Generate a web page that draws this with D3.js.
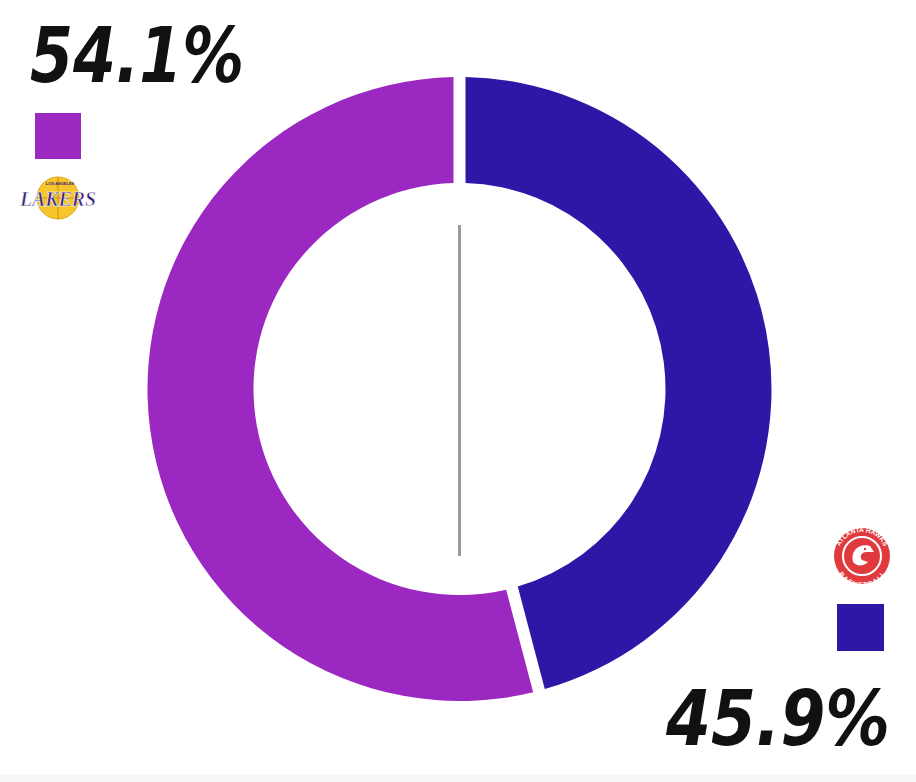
<!DOCTYPE html>
<html><head><meta charset="utf-8">
<script src="https://cdn.jsdelivr.net/npm/d3@7"></script>
<style>html,body{margin:0;padding:0;background:#fff;}svg{display:block;}</style>
</head><body>
<svg id="chart" width="916" height="782"></svg>
<script>
const teams = ["Hawks", "Lakers"];
const shares = [45.9, 54.1];
const labels = ["45.9%", "54.1%"];
const colors = ["#2e17a6", "#9b28c0"];

const svg = d3.select("#chart");
const W = 916, H = 782;
const cx = 459.5, cy = 389, rOuter = 312, rInner = 206;

const pie = d3.pie().sort(null).value(d => d.v);
const data = teams.map((t, i) => ({team: t, v: shares[i], color: colors[i], label: labels[i]}));
const arcs = pie(data);
const arc = d3.arc().innerRadius(rInner).outerRadius(rOuter)
  .padAngle(12 / rOuter).padRadius(rOuter);

const g = svg.append("g").attr("transform", `translate(${cx},${cy})`);
g.selectAll("path").data(arcs).join("path")
  .attr("d", arc).attr("fill", d => d.data.color);

// center vertical line
g.append("line").attr("x1", 0).attr("x2", 0).attr("y1", -164).attr("y2", 167)
  .attr("stroke", "#9a9a9a").attr("stroke-width", 3);

const fontFam = "'DejaVu Sans Condensed','DejaVu Sans',sans-serif";

// Lakers label (top-left)
svg.append("text").attr("x", 30).attr("y", 82)
  .attr("font-family", fontFam).attr("font-weight", "bold").attr("font-style", "italic")
  .attr("font-size", 76).attr("fill", "#111")
  .attr("textLength", 214).attr("lengthAdjust", "spacingAndGlyphs")
  .text(data[1].label);
svg.append("rect").attr("x", 35).attr("y", 113).attr("width", 46).attr("height", 46)
  .attr("fill", data[1].color);

// Lakers logo approximation
const lk = svg.append("g").attr("transform", "translate(58,198)");
lk.append("circle").attr("r", 21).attr("fill", "#f5c52b").attr("stroke", "#e0a818").attr("stroke-width", 1);
lk.append("path").attr("d", "M-21,0 H21 M0,-21 V21").attr("stroke", "#c48a10").attr("stroke-width", 0.8);
lk.append("text").attr("x", 0).attr("y", 8).attr("text-anchor", "middle")
  .attr("font-family", "'Liberation Serif',serif").attr("font-weight", "bold").attr("font-style", "italic")
  .attr("font-size", 22).attr("fill", "#3b1f7a").attr("stroke", "#fff").attr("stroke-width", 0.6)
  .attr("textLength", 76).attr("lengthAdjust", "spacingAndGlyphs").text("LAKERS");
lk.append("text").attr("x", 2).attr("y", -13).attr("text-anchor", "middle")
  .attr("font-family", "sans-serif").attr("font-weight", "bold").attr("font-size", 4).attr("fill", "#3b1f7a").text("LOS ANGELES");

// Hawks label (bottom-right)
svg.append("text").attr("x", 666).attr("y", 745)
  .attr("font-family", fontFam).attr("font-weight", "bold").attr("font-style", "italic")
  .attr("font-size", 76).attr("fill", "#111")
  .attr("textLength", 224).attr("lengthAdjust", "spacingAndGlyphs")
  .text(data[0].label);
svg.append("rect").attr("x", 837).attr("y", 604).attr("width", 47).attr("height", 47)
  .attr("fill", data[0].color);

// Hawks logo approximation
const hk = svg.append("g").attr("transform", "translate(862,556)");
hk.append("circle").attr("r", 28).attr("fill", "#e03a3e");
hk.append("circle").attr("r", 19).attr("fill", "none").attr("stroke", "#fff").attr("stroke-width", 2);
hk.append("circle").attr("r", 16).attr("fill", "#e03a3e");
hk.append("path").attr("d", "M-9,6 C-12,-6 -2,-13 8,-10 L12,-4 L4,-4 C0,-4 -3,0 0,4 L6,6 C2,10 -5,11 -9,6 Z")
  .attr("fill", "#fff");
hk.append("circle").attr("cx", 3).attr("cy", -7).attr("r", 1.2).attr("fill", "#e03a3e");
svg.append("defs").append("path").attr("id", "hkTop")
  .attr("d", "M838,556 A24,24 0 0 1 886,556");
svg.append("defs").append("path").attr("id", "hkBot")
  .attr("d", "M841,560 A21,21 0 0 0 883,560");
svg.append("text").attr("font-family", "sans-serif").attr("font-weight", "bold").attr("font-size", 6.5).attr("fill", "#fff")
  .append("textPath").attr("href", "#hkTop").attr("startOffset", "50%").attr("text-anchor", "middle").text("ATLANTA HAWKS");
svg.append("text").attr("font-family", "sans-serif").attr("font-weight", "bold").attr("font-size", 6.5).attr("fill", "#fff")
  .attr("dy", 6)
  .append("textPath").attr("href", "#hkBot").attr("startOffset", "50%").attr("text-anchor", "middle").text("BASKETBALL");

// faint bottom band
svg.append("rect").attr("x", 0).attr("y", 775).attr("width", W).attr("height", 7).attr("fill", "#f7f7f7");
</script>
</body></html>
